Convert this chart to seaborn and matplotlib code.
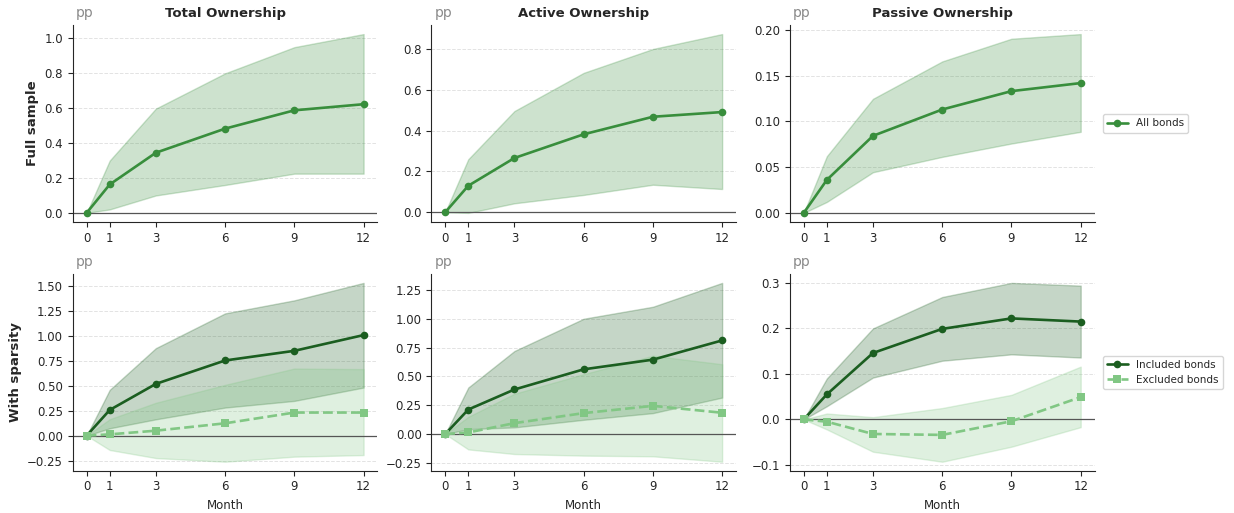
import numpy as np
import pandas as pd
import matplotlib
matplotlib.use("Agg")
import matplotlib.pyplot as plt
import seaborn as sns

months = [0, 1, 3, 6, 9, 12]
col_titles = ["Total Ownership", "Active Ownership", "Passive Ownership"]
row_labels = ["Full sample", "With sparsity"]

# Full sample (All bonds): point estimate, lower, upper
total_all = [0.0, 0.163, 0.345, 0.483, 0.588, 0.623]
total_all_lo = [0.0, 0.02, 0.10, 0.16, 0.225, 0.225]
total_all_hi = [0.0, 0.30, 0.598, 0.80, 0.95, 1.025]

active_all = [0.0, 0.13, 0.266, 0.382, 0.468, 0.491]
active_all_lo = [0.0, -0.003, 0.044, 0.085, 0.135, 0.114]
active_all_hi = [0.0, 0.26, 0.496, 0.683, 0.80, 0.873]

passive_all = [0.0, 0.0361, 0.0843, 0.1131, 0.1332, 0.142]
passive_all_lo = [0.0, 0.012, 0.0445, 0.0613, 0.0759, 0.0887]
passive_all_hi = [0.0, 0.062, 0.1248, 0.1657, 0.1905, 0.1956]

# With sparsity: included / excluded bonds
total_inc = [0.0, 0.258, 0.520, 0.755, 0.852, 1.010]
total_inc_lo = [0.0, 0.074, 0.164, 0.282, 0.349, 0.483]
total_inc_hi = [0.0, 0.46, 0.879, 1.228, 1.359, 1.534]
total_exc = [0.0, 0.013, 0.05, 0.124, 0.232, 0.232]
total_exc_lo = [0.0, -0.144, -0.225, -0.262, -0.211, -0.195]
total_exc_hi = [0.0, 0.165, 0.33, 0.51, 0.674, 0.668]

active_inc = [0.0, 0.213, 0.387, 0.562, 0.646, 0.813]
active_inc_lo = [0.0, 0.043, 0.058, 0.124, 0.182, 0.317]
active_inc_hi = [0.0, 0.404, 0.721, 1.001, 1.105, 1.312]
active_exc = [0.0, 0.014, 0.095, 0.182, 0.245, 0.185]
active_exc_lo = [0.0, -0.133, -0.173, -0.187, -0.193, -0.24]
active_exc_hi = [0.0, 0.15, 0.35, 0.52, 0.68, 0.606]

passive_inc = [0.0, 0.055, 0.146, 0.199, 0.222, 0.215]
passive_inc_lo = [0.0, 0.029, 0.092, 0.129, 0.143, 0.136]
passive_inc_hi = [0.0, 0.090, 0.200, 0.269, 0.300, 0.294]
passive_exc = [0.0, -0.005, -0.032, -0.034, -0.004, 0.049]
passive_exc_lo = [0.0, -0.022, -0.071, -0.093, -0.060, -0.017]
passive_exc_hi = [0.0, 0.013, 0.005, 0.025, 0.054, 0.116]

c_all = "#388e3c"
c_inc = "#1b5e20"
c_exc = "#81c784"

sns.set_style("ticks")
plt.rcParams["font.family"] = ["DejaVu Sans"]

fig, axes = plt.subplots(2, 3, figsize=(12.34, 5.13), dpi=100)
fig.subplots_adjust(left=0.059, right=0.887, top=0.951, bottom=0.0825,
                    wspace=0.177, hspace=0.265)

top = [(total_all, total_all_lo, total_all_hi),
       (active_all, active_all_lo, active_all_hi),
       (passive_all, passive_all_lo, passive_all_hi)]
bot = [((total_inc, total_inc_lo, total_inc_hi), (total_exc, total_exc_lo, total_exc_hi)),
       ((active_inc, active_inc_lo, active_inc_hi), (active_exc, active_exc_lo, active_exc_hi)),
       ((passive_inc, passive_inc_lo, passive_inc_hi), (passive_exc, passive_exc_lo, passive_exc_hi))]

LW = 1.9
MS = 5.5

def style(ax):
    ax.axhline(0, color="#555555", lw=0.9, zorder=1)
    ax.grid(axis="y", ls="--", color="#e3e3e3", lw=0.7)
    ax.set_axisbelow(True)
    ax.set_xticks(months)
    ax.set_title("pp", loc="left", color="#8a8a8a", fontsize=10, x=0.01)
    ax.tick_params(labelsize=8.5)
    sns.despine(ax=ax)

for j in range(3):
    ax = axes[0, j]
    m, lo, hi = top[j]
    ax.fill_between(months, lo, hi, color=c_all, alpha=0.25, lw=1)
    df = pd.DataFrame({"Month": months, "v": m})
    sns.lineplot(data=df, x="Month", y="v", ax=ax, color=c_all, lw=LW,
                 marker="o", markersize=MS, markeredgewidth=0, label="All bonds",
                 zorder=3)
    style(ax)
    ax.set_title(col_titles[j], fontweight="bold", fontsize=9.5)
    ax.set_xlabel("")
    ax.set_ylabel("")
    if j == 2:
        ax.legend(loc="center left", bbox_to_anchor=(1.01, 0.5), fontsize=7.5)
    else:
        ax.get_legend().remove()

for j in range(3):
    ax = axes[1, j]
    (mi, loi, hii), (me, loe, hie) = bot[j]
    ax.fill_between(months, loi, hii, color=c_inc, alpha=0.25, lw=1)
    ax.fill_between(months, loe, hie, color=c_exc, alpha=0.25, lw=1)
    dfi = pd.DataFrame({"Month": months, "v": mi})
    dfe = pd.DataFrame({"Month": months, "v": me})
    sns.lineplot(data=dfi, x="Month", y="v", ax=ax, color=c_inc, lw=LW,
                 marker="o", markersize=MS, markeredgewidth=0,
                 label="Included bonds", zorder=3)
    sns.lineplot(data=dfe, x="Month", y="v", ax=ax, color=c_exc, lw=LW,
                 marker="s", markersize=MS, markeredgewidth=0,
                 linestyle="--", label="Excluded bonds", zorder=3)
    style(ax)
    ax.set_xlabel("Month", fontsize=8.5)
    ax.set_ylabel("")
    if j == 2:
        ax.legend(loc="center left", bbox_to_anchor=(1.01, 0.5), fontsize=7.5)
    else:
        ax.get_legend().remove()

axes[0, 0].set_ylabel("Full sample", fontweight="bold", fontsize=9.5)
axes[1, 0].set_ylabel("With sparsity", fontweight="bold", fontsize=9.5)

fig.savefig("out.png", dpi=100)
